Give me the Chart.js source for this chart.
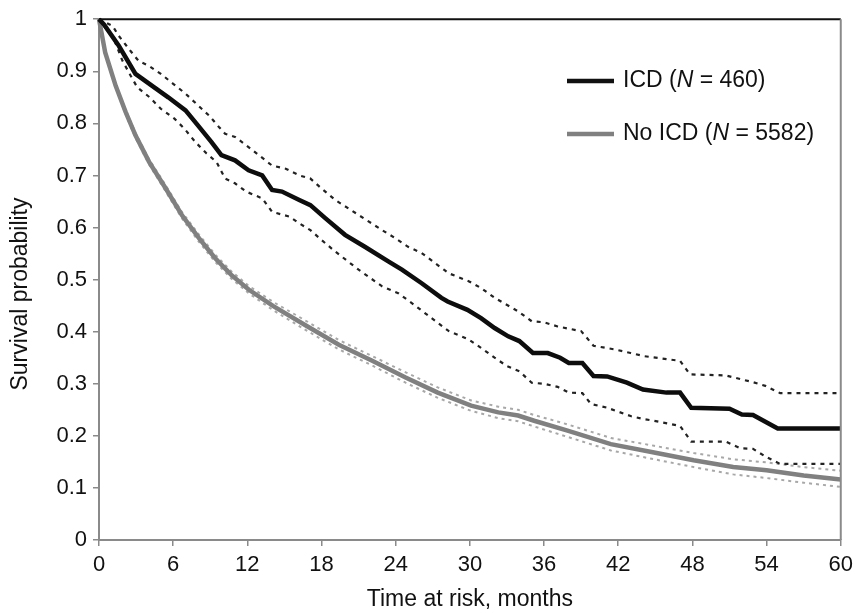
<!DOCTYPE html>
<html>
<head>
<meta charset="utf-8">
<script src="https://cdn.jsdelivr.net/npm/chart.js@4.4.1/dist/chart.umd.min.js"></script>
<style>
  html, body { margin: 0; padding: 0; background: #fff; }
  #wrap { width: 859px; height: 613px; }
</style>
</head>
<body>
<div id="wrap"><canvas id="kmChart" width="859" height="613"></canvas></div>
<script>
// ICD group (N = 460): survival curve and 95% CI
const icdMonths = [0, 0.4, 1.6, 2.95, 4.3, 5.6, 7.0, 8.0, 9.1, 9.9, 11.0, 12.1, 13.2, 14.0, 14.8, 16.2, 17.1, 18.3, 19.9, 21.5, 23.4, 24.5, 26.1, 27.7, 28.2, 29.8, 30.9, 32.0, 33.1, 34.0, 35.1, 36.3, 37.3, 38.0, 39.1, 40.0, 41.1, 42.7, 44.0, 45.9, 47.0, 47.9, 51.0, 52.0, 52.9, 54.9, 60];
const icdSurv = [1.0, 0.990, 0.949, 0.895, 0.872, 0.850, 0.825, 0.796, 0.764, 0.739, 0.729, 0.710, 0.700, 0.672, 0.669, 0.653, 0.643, 0.618, 0.586, 0.563, 0.535, 0.519, 0.493, 0.465, 0.458, 0.442, 0.426, 0.407, 0.391, 0.382, 0.359, 0.359, 0.350, 0.340, 0.340, 0.315, 0.314, 0.302, 0.289, 0.283, 0.283, 0.254, 0.252, 0.241, 0.240, 0.214, 0.214];

const icdUpperMonths = [0, 1.1, 1.6, 2.55, 3.2, 4.0, 5.0, 6.0, 7.0, 7.9, 8.9, 9.7, 10.2, 11.0, 11.9, 14.0, 15.1, 16.2, 17.1, 18.0, 19.1, 21.0, 22.9, 24.0, 25.0, 26.1, 27.9, 28.3, 29.9, 30.9, 32.0, 33.9, 35.0, 36.0, 37.1, 39.0, 40.0, 41.7, 43.0, 44.1, 47.0, 47.8, 50.7, 52.9, 53.9, 55.1, 60];
const icdUpper = [1.0, 0.987, 0.968, 0.939, 0.920, 0.911, 0.895, 0.876, 0.857, 0.837, 0.815, 0.793, 0.780, 0.774, 0.758, 0.719, 0.713, 0.700, 0.694, 0.675, 0.653, 0.624, 0.595, 0.579, 0.563, 0.551, 0.519, 0.512, 0.497, 0.484, 0.465, 0.439, 0.420, 0.418, 0.410, 0.401, 0.373, 0.366, 0.359, 0.353, 0.344, 0.318, 0.316, 0.303, 0.296, 0.282, 0.282];

const icdLowerMonths = [0, 1.2, 1.9, 2.55, 3.1, 4.1, 5.0, 6.1, 6.9, 7.8, 8.7, 9.5, 10.2, 11.0, 11.9, 13.2, 14.0, 15.4, 16.2, 17.1, 18.0, 19.1, 21.0, 22.9, 24.2, 25.3, 26.9, 28.3, 29.9, 30.9, 32.0, 33.0, 34.0, 35.0, 36.0, 37.1, 38.0, 39.1, 39.8, 41.1, 43.0, 44.1, 44.9, 47.0, 47.9, 50.7, 51.9, 52.9, 54.0, 55.1, 60];
const icdLower = [1.0, 0.962, 0.920, 0.892, 0.869, 0.850, 0.828, 0.809, 0.790, 0.764, 0.742, 0.726, 0.694, 0.685, 0.669, 0.656, 0.630, 0.621, 0.608, 0.595, 0.576, 0.554, 0.519, 0.487, 0.474, 0.455, 0.426, 0.401, 0.385, 0.369, 0.350, 0.334, 0.324, 0.302, 0.300, 0.294, 0.283, 0.282, 0.261, 0.254, 0.238, 0.232, 0.229, 0.219, 0.189, 0.189, 0.176, 0.175, 0.159, 0.146, 0.146];

// No ICD group (N = 5582)
const noIcdMonths = [0, 0.5, 1.35, 2.15, 2.95, 4.05, 5.4, 6.7, 8.1, 9.4, 10.7, 12.1, 14.1, 16.8, 19.4, 22.1, 24.8, 27.4, 30.1, 32.3, 33.9, 35.2, 37.9, 41.4, 44.9, 48.1, 51.3, 54.0, 57.0, 60];
const noIcdSurv = [1.0, 0.936, 0.872, 0.822, 0.777, 0.726, 0.675, 0.624, 0.579, 0.541, 0.509, 0.481, 0.449, 0.411, 0.375, 0.344, 0.312, 0.283, 0.258, 0.245, 0.239, 0.229, 0.210, 0.184, 0.168, 0.153, 0.140, 0.134, 0.124, 0.116];
const noIcdUpper = [1.0, 0.938, 0.875, 0.826, 0.782, 0.731, 0.681, 0.630, 0.586, 0.548, 0.516, 0.488, 0.457, 0.420, 0.384, 0.353, 0.322, 0.293, 0.268, 0.256, 0.250, 0.240, 0.222, 0.196, 0.181, 0.167, 0.155, 0.149, 0.140, 0.133];
const noIcdLower = [1.0, 0.934, 0.869, 0.818, 0.772, 0.721, 0.669, 0.618, 0.572, 0.534, 0.502, 0.474, 0.441, 0.402, 0.366, 0.335, 0.302, 0.273, 0.248, 0.234, 0.228, 0.218, 0.198, 0.172, 0.155, 0.140, 0.126, 0.119, 0.110, 0.102];

const legendLabels = [
    ['ICD (', 'N', ' = 460)'],
    ['No ICD (', 'N', ' = 5582)']
];
const yTitle = 'Survival probability';

const FONT = '"Liberation Sans", Arial, Helvetica, sans-serif';

function toPoints(xs, ys) {
    return xs.map((x, i) => ({ x: x, y: ys[i] }));
}

function lineSet(xs, ys, color, width, dash) {
    return {
        data: toPoints(xs, ys),
        borderColor: color,
        borderWidth: width,
        borderDash: dash || [],
        pointRadius: 0,
        tension: 0,
        fill: false,
        clip: 8
    };
}

// top and right frame lines, y title and the in-plot legend
const framePlugin = {
    id: 'frame',
    afterDraw(chart) {
        const { ctx, chartArea } = chart;
        ctx.save();
        ctx.lineWidth = 2;
        ctx.strokeStyle = '#111';
        ctx.beginPath();
        ctx.moveTo(chartArea.left, chartArea.top);
        ctx.lineTo(chartArea.right, chartArea.top);
        ctx.stroke();
        ctx.strokeStyle = '#8a8a8a';
        ctx.beginPath();
        ctx.moveTo(chartArea.right, chartArea.top);
        ctx.lineTo(chartArea.right, chartArea.bottom);
        ctx.stroke();

        // y axis title, sitting a little below the middle like the original
        ctx.save();
        ctx.translate(21, 294);
        ctx.rotate(-Math.PI / 2);
        ctx.font = '23px ' + FONT;
        ctx.fillStyle = '#111';
        ctx.textAlign = 'center';
        ctx.textBaseline = 'middle';
        ctx.fillText(yTitle, 0, 0);
        ctx.restore();

        // legend
        const colors = ['#111', '#808080'];
        const rowsY = [81, 134];
        ctx.textBaseline = 'middle';
        ctx.fillStyle = '#111';
        legendLabels.forEach((parts, i) => {
            ctx.strokeStyle = colors[i];
            ctx.lineWidth = 4.5;
            ctx.beginPath();
            ctx.moveTo(567, rowsY[i]);
            ctx.lineTo(614, rowsY[i]);
            ctx.stroke();
            let x = 623;
            parts.forEach((p, j) => {
                ctx.font = (j === 1 ? 'italic ' : '') + '23px ' + FONT;
                ctx.fillText(p, x, rowsY[i]);
                x += ctx.measureText(p).width;
            });
        });
        ctx.restore();
    }
};

new Chart(document.getElementById('kmChart'), {
    type: 'line',
    data: {
        datasets: [
            lineSet(icdMonths, icdSurv, '#0d0d0d', 4.5),
            lineSet(icdUpperMonths, icdUpper, '#222', 2.2, [4, 5]),
            lineSet(icdLowerMonths, icdLower, '#222', 2.2, [4, 5]),
            lineSet(noIcdMonths, noIcdSurv, '#808080', 4.5),
            lineSet(noIcdMonths, noIcdUpper, '#a8a8a8', 2, [3, 4]),
            lineSet(noIcdMonths, noIcdLower, '#a8a8a8', 2, [3, 4])
        ]
    },
    options: {
        responsive: false,
        animation: false,
        layout: { padding: { top: 15, right: 14, left: 0, bottom: 0 } },
        plugins: {
            legend: { display: false },
            tooltip: { enabled: false }
        },
        scales: {
            x: {
                type: 'linear',
                min: 0,
                max: 60,
                afterFit: function (scale) { scale.height = 73; },
                ticks: {
                    stepSize: 6,
                    color: '#111',
                    padding: 6,
                    maxRotation: 0,
                    font: { family: FONT, size: 22 }
                },
                grid: { drawOnChartArea: false, color: '#8a8a8a', tickLength: 6, lineWidth: 1.5 },
                border: { color: '#8a8a8a', width: 2 },
                title: {
                    display: true,
                    text: 'Time at risk, months',
                    color: '#111',
                    padding: { top: 4, bottom: 0 },
                    font: { family: FONT, size: 23 }
                }
            },
            y: {
                min: 0,
                max: 1,
                afterFit: function (scale) { scale.width = 99; },
                ticks: {
                    stepSize: 0.1,
                    color: '#111',
                    padding: 6,
                    font: { family: FONT, size: 22 },
                    callback: function (value) { return String(Number(value.toFixed(1))); }
                },
                grid: { drawOnChartArea: false, color: '#8a8a8a', tickLength: 6, lineWidth: 1.5 },
                border: { color: '#8a8a8a', width: 2 }
            }
        }
    },
    plugins: [framePlugin]
});
</script>
</body>
</html>
